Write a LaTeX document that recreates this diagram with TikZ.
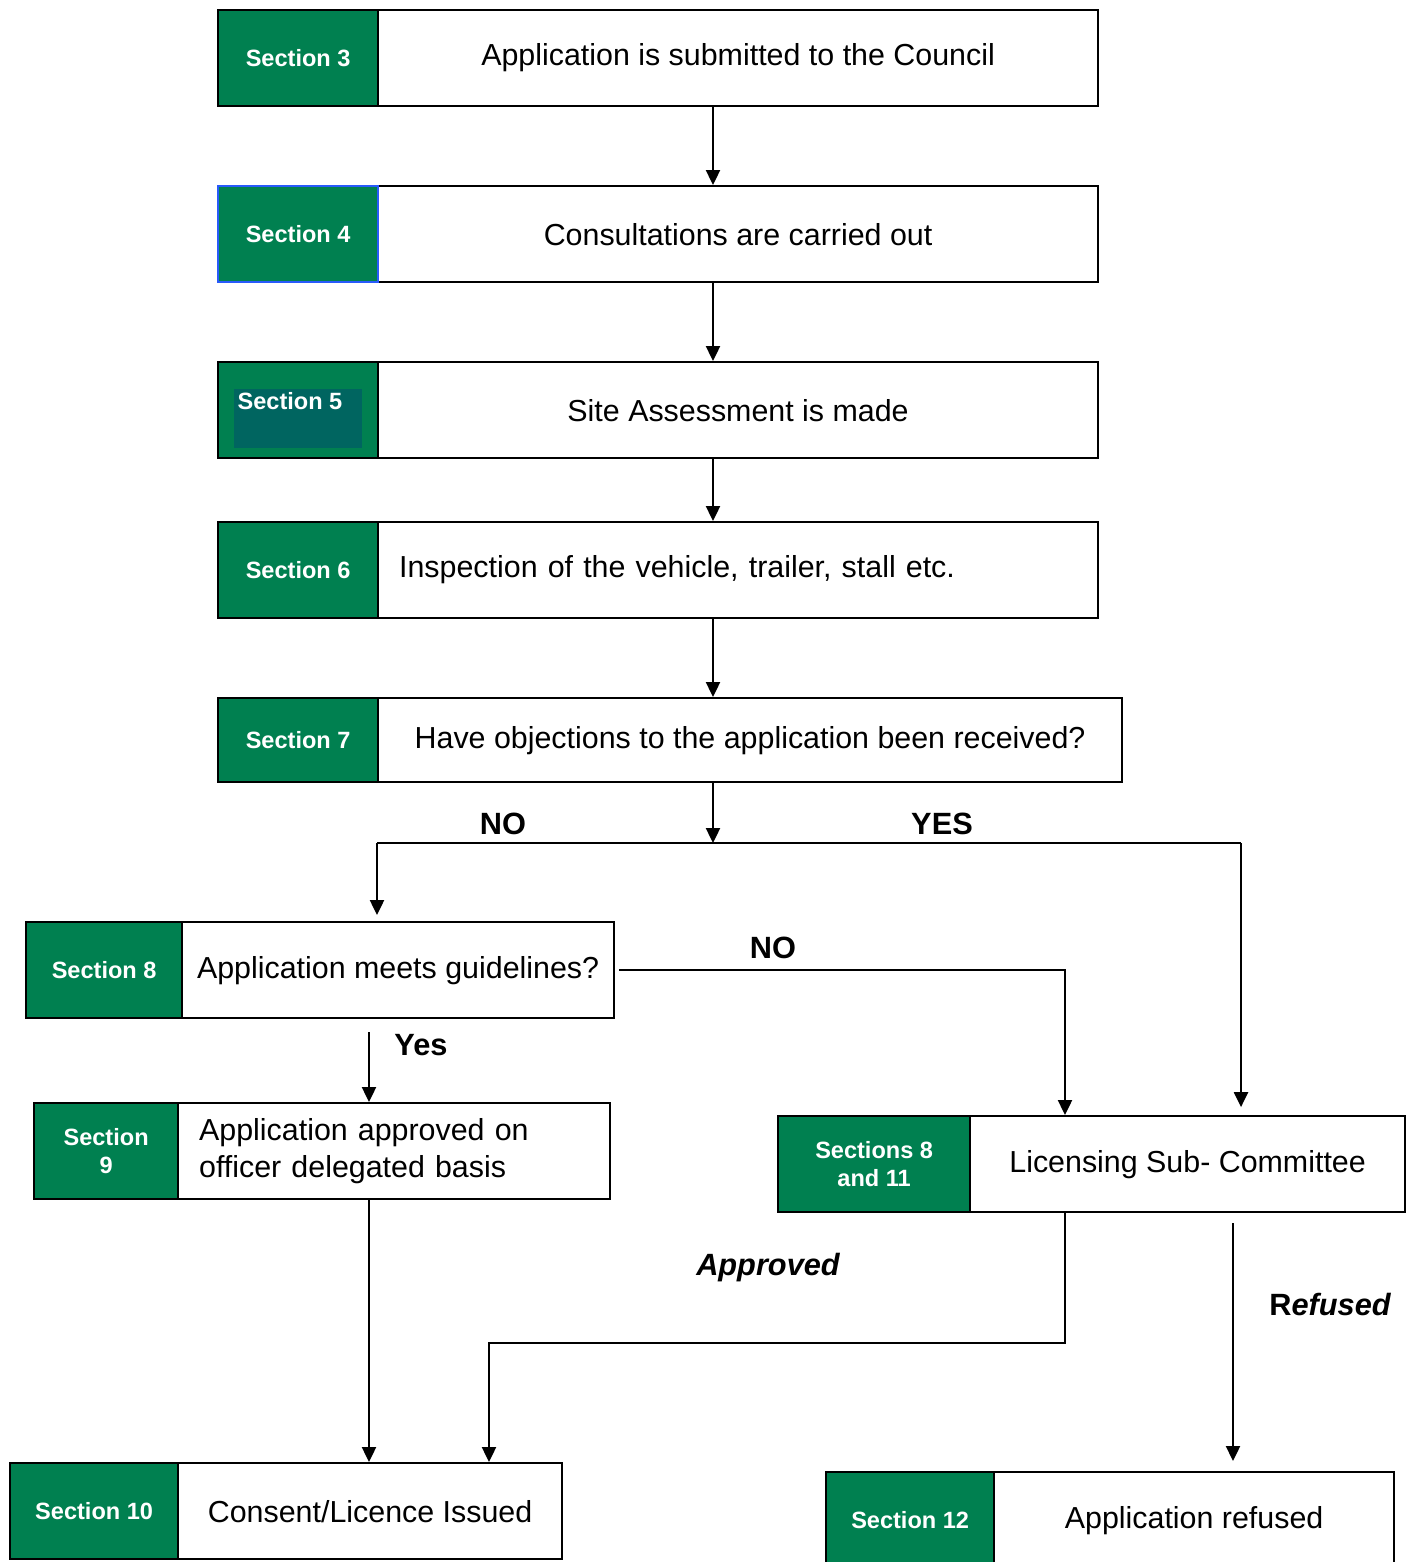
\documentclass[tikz,border=0pt]{standalone}
\usepackage{fontspec}
\setmainfont{Liberation Sans}
\usetikzlibrary{arrows.meta}

\definecolor{secgreen}{RGB}{0,128,80}
\definecolor{secteal}{RGB}{0,101,96}
\definecolor{secblue}{RGB}{40,90,250}

\tikzset{
    secbox/.style={rectangle, draw, line width=1.3pt, fill=secgreen, anchor=north west,
        text=white, align=center, inner sep=0pt, font=\fontsize{13.4}{16}\selectfont\bfseries},
    stepbox/.style={rectangle, draw, line width=1.3pt, fill=white, anchor=north west,
        align=center, inner sep=0pt, font=\fontsize{17.3}{21}\selectfont},
    arr/.style={-{Triangle[length=8.5pt,width=8pt]}},
    lbl/.style={font=\fontsize{17.5}{21}\selectfont\bfseries},
}

\begin{document}
\begin{tikzpicture}[x=0.02cm, y=-0.02cm, line width=1.1pt]
    \clip (0,0) rectangle (1411,1562);

    % main column
    \node (app3) [stepbox, minimum width=14.4cm, minimum height=1.92cm] at (377, 9) {Application is submitted to the Council};
    \node (sec3) [secbox, minimum width=3.2cm, minimum height=1.92cm] at (217, 9) {Section 3};
    \node (app4) [stepbox, minimum width=14.4cm, minimum height=1.92cm] at (377, 185) {Consultations are carried out};
    \node (sec4) [secbox, draw=secblue, minimum width=3.2cm, minimum height=1.92cm] at (217, 185) {Section 4};
    \node (app5) [stepbox, minimum width=14.4cm, minimum height=1.92cm] at (377, 361) {Site Assessment is made};
    \node (sec5) [secbox, minimum width=3.2cm, minimum height=1.92cm] at (217, 361) {};
    \node (sec5in) [rectangle, fill=secteal, anchor=north west, minimum width=2.56cm, minimum height=1.18cm] at (233, 388) {};
    \node (sec5txt) [text=white, font=\fontsize{13.4}{16}\selectfont\bfseries] at (290, 401) {Section 5};
    \node (app6) [stepbox, minimum width=14.4cm, minimum height=1.92cm, text width=13.56cm, inner xsep=0.42cm, align=left] at (377, 521) {Inspection of the vehicle, trailer, stall etc.};
    \node (sec6) [secbox, minimum width=3.2cm, minimum height=1.92cm] at (217, 521) {Section 6};
    \node (app7) [stepbox, minimum width=14.88cm, minimum height=1.68cm] at (377, 697) {Have objections to the application been received?};
    \node (sec7) [secbox, minimum width=3.2cm, minimum height=1.68cm] at (217, 697) {Section 7};

    % branches
    \node (app8) [stepbox, minimum width=8.64cm, minimum height=1.92cm] at (181, 921) {Application meets guidelines?};
    \node (sec8) [secbox, minimum width=3.12cm, minimum height=1.92cm] at (25, 921) {Section 8};
    \node (app9) [stepbox, minimum width=8.64cm, minimum height=1.92cm, text width=7.8cm, inner xsep=0.42cm, align=left] at (177, 1102) {Application approved on\\officer delegated basis};
    \node (sec9) [secbox, minimum width=2.88cm, minimum height=1.92cm] at (33, 1102) {Section\\9};
    \node (app11) [stepbox, minimum width=8.7cm, minimum height=1.92cm] at (969, 1115) {Licensing Sub- Committee};
    \node (sec11) [secbox, minimum width=3.84cm, minimum height=1.92cm] at (777, 1115) {Sections 8\\and 11};
    \node (app10) [stepbox, minimum width=7.68cm, minimum height=1.92cm] at (177, 1462) {Consent/Licence Issued};
    \node (sec10) [secbox, minimum width=3.36cm, minimum height=1.92cm] at (9, 1462) {Section 10};
    \node (app12) [stepbox, minimum width=8cm, minimum height=1.92cm] at (993, 1471) {Application refused};
    \node (sec12) [secbox, minimum width=3.36cm, minimum height=1.92cm] at (825, 1471) {Section 12};

    \coordinate (spine) at (713, 0);
    \coordinate (split) at (713, 843);
    \coordinate (noX) at (377, 843);
    \coordinate (yesX) at (1241, 843);
    \coordinate (okX) at (369, 0);
    \coordinate (midX) at (1065, 0);
    \coordinate (bend) at (489, 1343);
    \coordinate (refX) at (1233, 0);

    \draw [arr] (app3.south -| spine) -- (app4.north -| spine);
    \draw [arr] (app4.south -| spine) -- (app5.north -| spine);
    \draw [arr] (app5.south -| spine) -- (app6.north -| spine);
    \draw [arr] (app6.south -| spine) -- (app7.north -| spine);
    \draw [arr] (app7.south -| spine) -- (split);
    \draw (noX) -- (yesX);
    \draw [arr, shorten >=3.4pt] (noX) -- (noX |- app8.north);
    \draw [arr, shorten >=4.5pt] (yesX) -- (yesX |- app11.north);
    \draw [arr, shorten <=2.3pt] (app8.east) -| (midX |- app11.north);
    \draw [arr, shorten <=7.4pt] (okX |- app8.south) -- (okX |- app9.north);
    \draw [arr] (okX |- app9.south) -- (okX |- app10.north);
    \draw [arr] (midX |- app11.south) |- (bend) -- (bend |- app10.north);
    \draw [arr, shorten <=5.7pt, shorten >=5.7pt] (refX |- app11.south) -- (refX |- app12.north);

    % labels
    \node (lno) [lbl] at (503, 824) {NO};
    \node (lyes) [lbl] at (942, 824) {YES};
    \node (lno2) [lbl] at (773, 948) {NO};
    \node (lok) [lbl] at (421, 1045) {Yes};
    \node (lappr) [lbl] at (768, 1268) {\itshape Approved};
    \node (lref) [lbl] at (1330, 1305) {R\itshape efused};
\end{tikzpicture}
\end{document}
